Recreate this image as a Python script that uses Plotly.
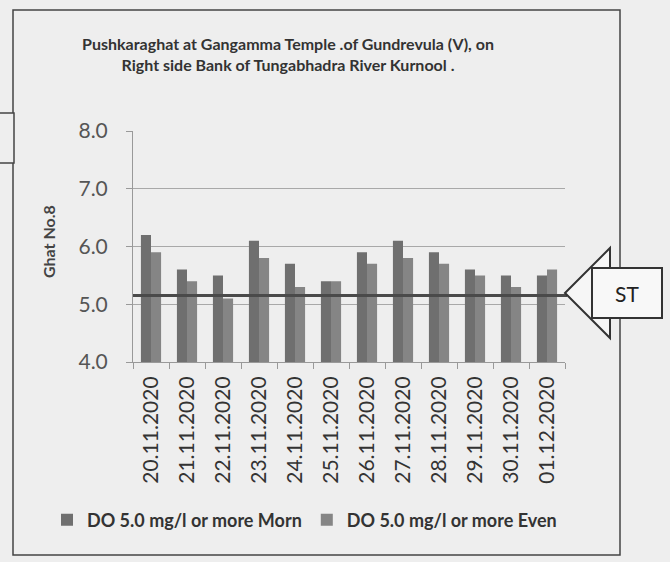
import plotly.graph_objects as go

dates = ["20.11.2020", "21.11.2020", "22.11.2020", "23.11.2020", "24.11.2020", "25.11.2020",
         "26.11.2020", "27.11.2020", "28.11.2020", "29.11.2020", "30.11.2020", "01.12.2020"]
morn = [6.2, 5.6, 5.5, 6.1, 5.7, 5.4, 5.9, 6.1, 5.9, 5.6, 5.5, 5.5]
even = [5.9, 5.4, 5.1, 5.8, 5.3, 5.4, 5.7, 5.8, 5.7, 5.5, 5.3, 5.6]
st_value = 5.15
y_ticks = [4.0, 5.0, 6.0, 7.0, 8.0]

W, H = 670, 562
L, R, T, B = 133, 565, 131, 362  # plot area in pixels

def px(x):
    return (x - L) / (R - L)

def py(y):
    return (B - y) / (B - T)

FONT = "Lato"

fig = go.Figure()
fig.add_trace(go.Bar(x=dates, y=morn, name="<b>DO 5.0 mg/l or more Morn</b>",
                     marker=dict(color="#6f6f6f", line=dict(width=0))))
fig.add_trace(go.Bar(x=dates, y=even, name="<b>DO 5.0 mg/l or more Even</b>",
                     marker=dict(color="#858585", line=dict(width=0))))

shapes = []
# outer chart border
shapes.append(dict(type="rect", xref="paper", yref="paper",
                   x0=px(13), x1=px(620), y0=py(555), y1=py(10),
                   line=dict(color="#444", width=1.5), layer="below"))
# left tab box
shapes.append(dict(type="rect", xref="paper", yref="paper",
                   x0=px(-2), x1=px(14), y0=py(163), y1=py(113),
                   line=dict(color="#444", width=1.5), fillcolor="#eeeeee"))
# ST line
shapes.append(dict(type="line", xref="paper", yref="y", x0=0, x1=px(567),
                   y0=st_value, y1=st_value, line=dict(color="#4a4a4a", width=3)))
# callout arrow
tri = "M {},{} L {},{} L {},{} Z".format(px(565), py(293), px(610), py(248), px(610), py(338))
shapes.append(dict(type="path", xref="paper", yref="paper", path=tri,
                   line=dict(color="#333", width=2), fillcolor="#f6f6f6"))
shapes.append(dict(type="rect", xref="paper", yref="paper",
                   x0=px(592), x1=px(662), y0=py(318), y1=py(268),
                   line=dict(color="#333", width=2), fillcolor="#f8f8f8"))

annotations = [
    dict(text="ST", xref="paper", yref="paper", x=px(627), y=py(293), showarrow=False,
         xanchor="center", yanchor="middle",
         font=dict(family=FONT, size=21, color="#222")),
    dict(text="<b>Ghat No.8</b>", xref="paper", yref="paper", x=px(48), y=py(242),
         xanchor="center", yanchor="middle",
         showarrow=False, textangle=-90, font=dict(family=FONT, size=16, color="#444")),
]

fig.update_layout(
    width=W, height=H,
    margin=dict(l=L, r=W - R, t=T, b=H - B),
    paper_bgcolor="#eeeeee", plot_bgcolor="#eeeeee",
    barmode="group", bargap=0.44, bargroupgap=0,
    title=dict(text="<b>Pushkaraghat at Gangamma Temple .of Gundrevula (V), on<br>Right side Bank of Tungabhadra River Kurnool .</b>",
               x=px(288), xref="paper", xanchor="center",
               y=1 - 50 / H, yref="container", yanchor="middle",
               font=dict(family=FONT, size=16, color="#333")),
    xaxis=dict(type="category", tickangle=-90, tickson="boundaries",
               ticks="outside", ticklen=6, tickcolor="#999",
               showline=True, linecolor="#999", linewidth=1,
               showgrid=False, ticklabelstandoff=5,
               tickfont=dict(family=FONT, size=21, color="#333")),
    yaxis=dict(range=[4, 8], tickvals=y_ticks, ticktext=["%.1f" % v for v in y_ticks],
               ticks="outside", ticklen=6, tickcolor="#999",
               showline=True, linecolor="#999", linewidth=1,
               showgrid=True, gridcolor="#a8a8a8", gridwidth=1,
               zeroline=False, ticklabelstandoff=14,
               tickfont=dict(family=FONT, size=21, color="#555")),
    legend=dict(orientation="h", x=px(47), y=py(520), xanchor="left", yanchor="middle",
                font=dict(family=FONT, size=18, color="#333"),
                bgcolor="rgba(0,0,0,0)", itemwidth=30),
    shapes=shapes, annotations=annotations,
)

fig.write_html("out.html", config={"displayModeBar": False},
               post_script="document.body.style.margin='0';document.body.style.overflow='hidden';")
